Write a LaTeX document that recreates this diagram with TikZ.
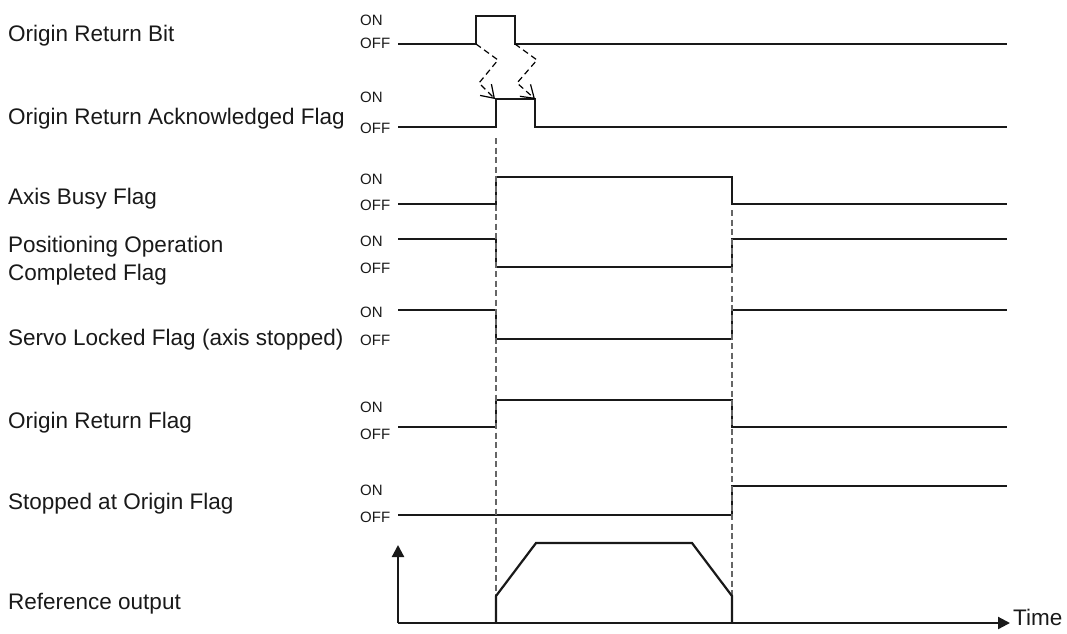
\documentclass[tikz,border=0pt]{standalone}
\usepackage{fontspec}
\setmainfont{Liberation Sans}
\usetikzlibrary{arrows.meta}

\begin{document}
\begin{tikzpicture}[
    x=1pt, y=-1pt,
    sig/.style={line width=2.2pt, black!90},
    guide/.style={line width=1.4pt, black!60, dash pattern=on 6pt off 3.5pt},
    handoff/.style={line width=1.2pt, black, dash pattern=on 6pt off 4pt,
                    -{Straight Barb[length=12pt, width=16pt, line width=1.2pt]}},
    axis/.style={line width=2.2pt, black!90, -{Triangle[length=12pt, width=12pt]}},
    signame/.style={anchor=base west, inner sep=0pt, text=black!90,
                    font=\fontsize{22.5}{28}\selectfont},
    level/.style={anchor=base west, inner sep=0pt, text=black!90,
                  font=\fontsize{15}{18}\selectfont},
]
\useasboundingbox (0,0) rectangle (1067,633);
\def\ts{398}  % start of the traces
\def\te{1007} % end of the traces
\def\ta{496}  % start of the origin return
\def\tb{732}  % end of the origin return

% Signal names
\node[signame] (nbit)   at (8,41)  {Origin Return Bit};
\node[signame] (nack)   at (8,124) {Origin Return Acknowledged Flag};
\node[signame] (nbusy)  at (8,204) {Axis Busy Flag};
\node[signame] (npos)   at (8,252) {Positioning Operation};
\node[signame] (npos2)  at (8,280) {Completed Flag};
\node[signame] (nservo) at (8,345) {Servo Locked Flag (axis stopped)};
\node[signame] (nret)   at (8,428) {Origin Return Flag};
\node[signame] (nstop)  at (8,509) {Stopped at Origin Flag};
\node[signame] (nref)   at (8,609) {Reference output};

% ON / OFF levels
\foreach \r/\on/\off in {1/25/48, 2/102/133, 3/184/210, 4/246/273,
                         5/317/345, 6/412/439, 7/495/522} {
  \node[level] (on\r)  at (360,\on)  {ON};
  \node[level] (off\r) at (360,\off) {OFF};
}

% Waveforms
\draw[sig] (\ts,44) -- (476,44) -- (476,16) -- (515,16) -- (515,44) -- (\te,44);
\draw[sig] (\ts,127) -- (\ta,127) -- (\ta,99) -- (535,99) -- (535,127) -- (\te,127);
\draw[sig] (\ts,204) -- (\ta,204) -- (\ta,177) -- (\tb,177) -- (\tb,204) -- (\te,204);
\draw[sig] (\ts,239) -- (\ta,239) -- (\ta,267) -- (\tb,267) -- (\tb,239) -- (\te,239);
\draw[sig] (\ts,310) -- (\ta,310) -- (\ta,339) -- (\tb,339) -- (\tb,310) -- (\te,310);
\draw[sig] (\ts,427) -- (\ta,427) -- (\ta,400) -- (\tb,400) -- (\tb,427) -- (\te,427);
\draw[sig] (\ts,515) -- (\tb,515) -- (\tb,486) -- (\te,486);

% Bit to flag hand-off
\draw[handoff] (476,44) -- (498,60) -- (479,83) -- (495,99);
\draw[handoff] (515,44) -- (537,60) -- (517,83) -- (535,99);

% Timing guides
\draw[guide] (\ta,138) -- (\ta,596);
\draw[guide] (\tb,210) -- (\tb,596);

% Reference output profile
\draw[axis] (\ts,623) -- (\ts,545);
\draw[axis] (\ts,623) -- (1010,623);
\node[anchor=west, inner sep=0pt, text=black!90,
      font=\fontsize{22.5}{28}\selectfont] (time) at (1013,617) {Time};
\draw[sig] (\ta,623) -- (\ta,596) -- (536,543) -- (692,543) -- (\tb,596) -- (\tb,623);

\end{tikzpicture}
\end{document}
